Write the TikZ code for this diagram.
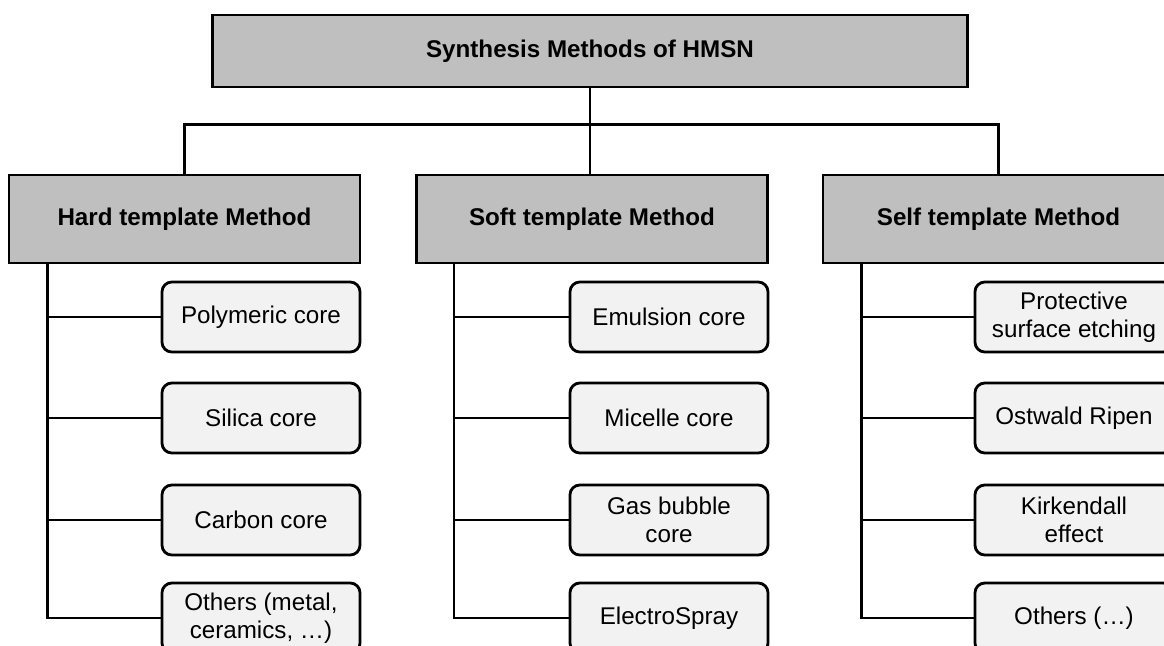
\documentclass[tikz,border=0pt]{standalone}
\usepackage{fontspec}
\setmainfont{Liberation Sans}
\usetikzlibrary{positioning,calc}
\definecolor{headgray}{RGB}{191,191,191}
\definecolor{leafgray}{RGB}{242,242,242}

\begin{document}
\begin{tikzpicture}[x=0.025cm,y=-0.025cm,line width=2pt,
	font=\fontsize{17.2}{20}\selectfont,
	head/.style={draw,fill=headgray,minimum width=8.775cm,minimum height=2.2cm,font=\fontsize{17.2}{20}\selectfont\bfseries},
	leaf/.style={draw,fill=leafgray,rounded corners=7pt,minimum width=4.95cm,minimum height=1.75cm,align=center}]
\clip (0,0) rectangle (1164,645);
% main boxes
\node[head,minimum width=18.85cm,minimum height=1.8cm](top) at (590,51){Synthesis Methods of HMSN};
\node[head](hard) at (184.5,219){Hard template Method};
\node[head](soft) at (592,219){Soft template Method};
\node[head](self) at (998.5,219){Self template Method};
% leaves
\node[leaf](h1) at (261,317){Polymeric core};
\node[leaf](h2) at (261,418){Silica core};
\node[leaf](h3) at (261,520){Carbon core};
\node[leaf](h4) at (261,618){Others (metal,\\ceramics, \dots)};
\node[leaf](s1) at (669,317){Emulsion core};
\node[leaf](s2) at (669,418){Micelle core};
\node[leaf](s3) at (669,520){Gas bubble\\core};
\node[leaf](s4) at (669,618){ElectroSpray};
\node[leaf](p1) at (1074,317){Protective\\surface etching};
\node[leaf](p2) at (1074,418){Ostwald Ripen};
\node[leaf](p3) at (1074,520){Kirkendall\\effect};
\node[leaf](p4) at (1074,618){Others (\dots)};
% connectors
\draw(top.south)to(top.south|-soft.north)
	(hard.north)to++(0,-49)-|(self.north);
\coordinate(hs) at ($(hard.south west)+(40,0)$);
\coordinate(ss) at ($(soft.south west)+(39,0)$);
\coordinate(ps) at ($(self.south west)+(40,0)$);
\draw(hs)|-(h4.west) (h1.west)to(h1.west-|hs) (h2.west)to(h2.west-|hs) (h3.west)to(h3.west-|hs);
\draw(ss)|-(s4.west) (s1.west)to(s1.west-|ss) (s2.west)to(s2.west-|ss) (s3.west)to(s3.west-|ss);
\draw(ps)|-(p4.west) (p1.west)to(p1.west-|ps) (p2.west)to(p2.west-|ps) (p3.west)to(p3.west-|ps);
\end{tikzpicture}
\end{document}
